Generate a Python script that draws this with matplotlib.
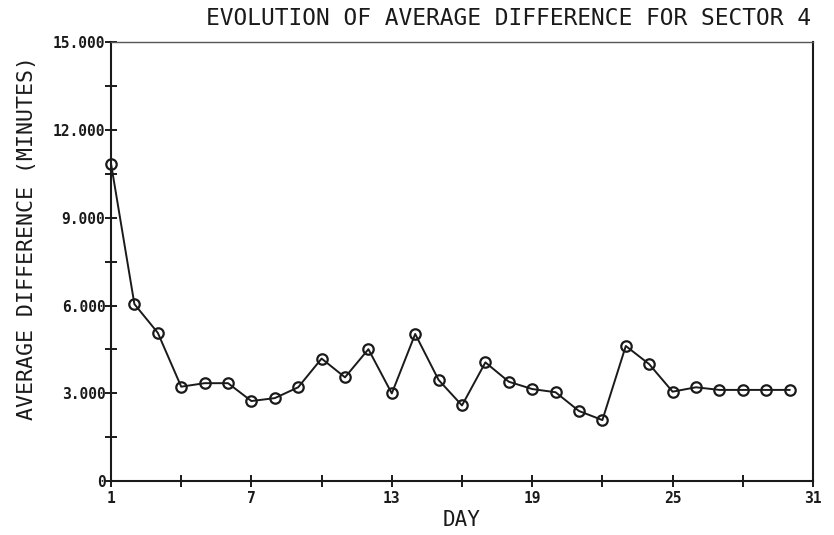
import matplotlib
matplotlib.use("Agg")
import matplotlib.pyplot as plt
from matplotlib.ticker import FixedLocator

# Daily average difference, sector 4
days = list(range(1, 31))
avg_diff = [10.85, 6.05, 5.07, 3.23, 3.35, 3.35, 2.74, 2.84, 3.21, 4.19,
            3.55, 4.51, 3.00, 5.03, 3.46, 2.59, 4.06, 3.40, 3.15, 3.04,
            2.40, 2.09, 4.62, 4.00, 3.06, 3.21, 3.12, 3.12, 3.12, 3.12]

x_major = [1, 7, 13, 19, 25, 31]
x_minor = [4, 10, 16, 22, 28]
y_major = [0, 3, 6, 9, 12, 15]
y_labels = ["0", "3.000", "6.000", "9.000", "12.000", "15.000"]
y_minor = [1.5, 4.5, 7.5, 10.5, 13.5]

title = "EVOLUTION OF AVERAGE DIFFERENCE FOR SECTOR 4"
xlabel = "DAY"
ylabel = "AVERAGE DIFFERENCE (MINUTES)"

mono = "DejaVu Sans Mono"
ink = "#1a1a1a"

fig = plt.figure(figsize=(8.34, 5.35), dpi=100)
ax = fig.add_axes([0.1331, 0.1004, 0.8417, 0.8211])

ax.plot(days, avg_diff, color=ink, lw=1.4, marker="o", ms=7.5,
        mfc="none", mec=ink, mew=1.6, clip_on=False)

ax.set_xlim(1, 31)
ax.set_ylim(0, 15)

ax.xaxis.set_major_locator(FixedLocator(x_major))
ax.xaxis.set_minor_locator(FixedLocator(x_minor))
ax.yaxis.set_major_locator(FixedLocator(y_major))
ax.yaxis.set_minor_locator(FixedLocator(y_minor))
ax.set_xticklabels([str(v) for v in x_major], family=mono, fontsize=10.5,
                   fontweight="bold")
ax.set_yticklabels(y_labels, family=mono, fontsize=10.5, fontweight="bold")

ax.tick_params(which="both", direction="inout", length=8, width=1.4,
               color=ink, labelcolor=ink)
ax.tick_params(axis="x", which="major", pad=3)
ax.tick_params(axis="y", which="major", pad=0)

for side in ["left", "bottom", "top", "right"]:
    ax.spines[side].set_linewidth(1.5)
    ax.spines[side].set_color(ink)
ax.spines["top"].set_color("#555555")
ax.spines["top"].set_linewidth(1.0)

fig.text(0.972, 0.966, title, ha="right", va="center", family=mono,
         fontsize=16.5, color=ink)
fig.text(0.554, 0.028, xlabel, ha="center", va="center", family=mono,
         fontsize=15, color=ink)
fig.text(0.032, 0.555, ylabel, ha="center", va="center", rotation=90,
         family=mono, fontsize=15.5, color=ink)

fig.savefig("out.png", dpi=100, facecolor="white")
